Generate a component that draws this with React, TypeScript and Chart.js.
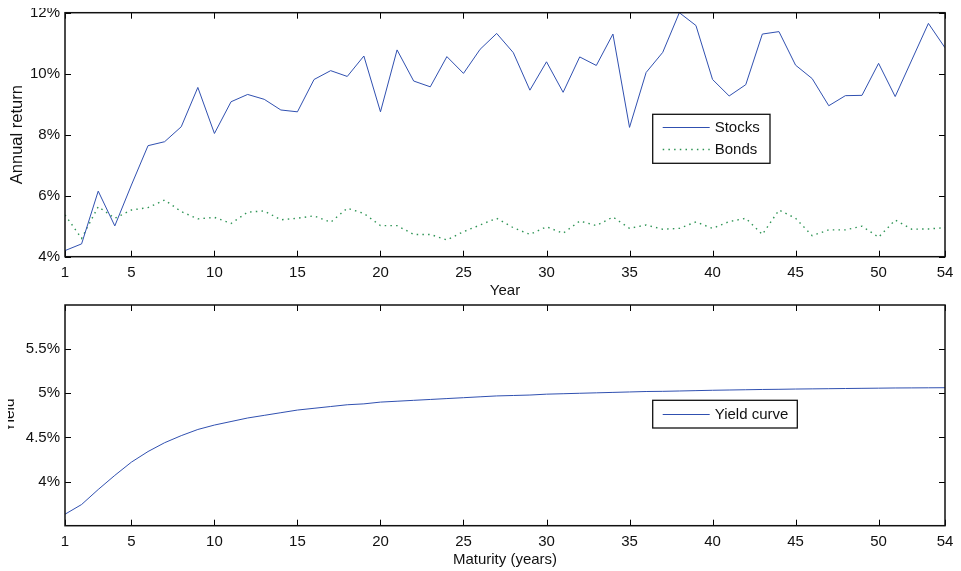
import React, { useEffect, useRef } from 'react';
import { Chart, registerables } from 'chart.js';

Chart.register(...registerables);

// ---------- data ----------
const years: number[] = Array.from({ length: 54 }, (_, i) => i + 1);

const stocks: number[] = [
  4.20, 4.42, 6.15, 5.01, 6.35, 7.64, 7.77, 8.26, 9.55, 8.04,
  9.08, 9.32, 9.16, 8.81, 8.75, 9.81, 10.10, 9.91, 10.58, 8.75,
  10.78, 9.76, 9.57, 10.56, 10.01, 10.80, 11.32, 10.69, 9.46, 10.39,
  9.39, 10.55, 10.27, 11.30, 8.24, 10.04, 10.70, 12.0, 11.58, 9.81,
  9.27, 9.64, 11.30, 11.38, 10.28, 9.84, 8.95, 9.28, 9.29, 10.34,
  9.25, 10.45, 11.65, 10.85,
];

const bonds: number[] = [
  5.37, 4.60, 5.64, 5.26, 5.53, 5.61, 5.86, 5.48, 5.24, 5.29,
  5.09, 5.46, 5.50, 5.21, 5.26, 5.34, 5.13, 5.59, 5.42, 5.02,
  5.02, 4.73, 4.73, 4.55, 4.82, 5.04, 5.26, 4.95, 4.73, 4.98,
  4.77, 5.17, 5.02, 5.30, 4.93, 5.04, 4.90, 4.93, 5.14, 4.93,
  5.15, 5.26, 4.73, 5.53, 5.26, 4.69, 4.88, 4.88, 5.00, 4.64,
  5.20, 4.90, 4.91, 4.95,
];

const maturities: number[] = Array.from({ length: 54 }, (_, i) => i + 1);

const yields: number[] = [
  3.63, 3.74, 3.91, 4.07, 4.22, 4.34, 4.44, 4.52, 4.59, 4.64,
  4.68, 4.72, 4.75, 4.78, 4.81, 4.83, 4.85, 4.87, 4.88, 4.90,
  4.91, 4.92, 4.93, 4.94, 4.95, 4.96, 4.97, 4.975, 4.98, 4.99,
  4.995, 5.00, 5.005, 5.01, 5.015, 5.02, 5.022, 5.026, 5.03, 5.034,
  5.037, 5.04, 5.043, 5.045, 5.048, 5.05, 5.052, 5.054, 5.056, 5.058,
  5.06, 5.061, 5.062, 5.063,
];

const xTickValues: number[] = [1, 5, 10, 15, 20, 25, 30, 35, 40, 45, 50, 54];
const returnTicks: number[] = [4, 6, 8, 10, 12];
const yieldTicks: number[] = [4, 4.5, 5, 5.5];

// ---------- style ----------
const FONT_FAMILY = '"Liberation Sans", Arial, Helvetica, sans-serif';
const TEXT = '#111';
const BLUE = '#3050b0';
const GREEN = '#2e9455';
const tickFont = { family: FONT_FAMILY, size: 15 };

const framePlugin = {
  id: 'matlabFrame',
  afterDraw(chart: any, _args: any, opts: any) {
    const { ctx, chartArea: a, scales } = chart;
    ctx.save();
    // inward ticks on all four sides
    ctx.strokeStyle = '#000';
    ctx.lineWidth = 1;
    ctx.beginPath();
    const tl = 6;
    const xs = scales.x;
    xs.ticks.forEach((t: any) => {
      const px = Math.round(xs.getPixelForValue(t.value)) + 0.5;
      ctx.moveTo(px, a.bottom);
      ctx.lineTo(px, a.bottom - tl);
      ctx.moveTo(px, a.top);
      ctx.lineTo(px, a.top + tl);
    });
    const ys = scales.y;
    ys.ticks.forEach((t: any) => {
      const py = Math.round(ys.getPixelForValue(t.value)) + 0.5;
      ctx.moveTo(a.left, py);
      ctx.lineTo(a.left + tl, py);
      ctx.moveTo(a.right, py);
      ctx.lineTo(a.right - tl, py);
    });
    ctx.stroke();
    // box
    ctx.lineWidth = 1.5;
    ctx.strokeStyle = '#111';
    ctx.strokeRect(a.left, a.top, a.width, a.height);

    // y title (partly clipped at the left edge, as in the source)
    ctx.save();
    ctx.fillStyle = TEXT;
    ctx.font = `${opts.titleSize}px ${FONT_FAMILY}`;
    ctx.translate(opts.titleX, (a.top + a.bottom) / 2);
    ctx.rotate(-Math.PI / 2);
    ctx.textAlign = 'center';
    ctx.textBaseline = 'alphabetic';
    ctx.fillText(opts.yTitle, 0, 0);
    ctx.restore();

    // legend box
    const lg = opts.legend;
    const bx = a.left + lg.dx;
    const by = a.top + lg.dy;
    ctx.fillStyle = '#fff';
    ctx.fillRect(bx, by, lg.w, lg.h);
    ctx.lineWidth = 1.3;
    ctx.strokeStyle = '#111';
    ctx.strokeRect(bx, by, lg.w, lg.h);
    ctx.font = `15px ${FONT_FAMILY}`;
    ctx.textAlign = 'left';
    ctx.textBaseline = 'middle';
    chart.data.datasets.forEach((ds: any, i: number) => {
      const ry = by + lg.rows[i];
      ctx.save();
      ctx.strokeStyle = ds.borderColor;
      ctx.lineWidth = ds.borderWidth || 1;
      ctx.setLineDash(ds.borderDash || []);
      ctx.beginPath();
      ctx.moveTo(bx + 10, ry);
      ctx.lineTo(bx + 57, ry);
      ctx.stroke();
      ctx.restore();
      ctx.fillStyle = TEXT;
      ctx.fillText(ds.label, bx + 62, ry + 0.5);
    });
    ctx.restore();
  },
};

function makeXScale(title: string, height: number, titlePadBottom: number) {
  return {
    type: 'linear',
    min: 1,
    max: 54,
    grid: { display: false, drawTicks: false },
    border: { display: false },
    afterBuildTicks: (s: any) => {
      s.ticks = xTickValues.map((v) => ({ value: v }));
    },
    afterFit: (s: any) => {
      s.height = height;
      s.paddingLeft = 0;
      s.paddingRight = 0;
    },
    ticks: {
      padding: 7,
      maxRotation: 0,
      autoSkip: false,
      color: TEXT,
      font: tickFont,
      callback: (v: any) => String(v),
    },
    title: {
      display: true,
      text: title,
      color: TEXT,
      font: tickFont,
      padding: { top: 0, bottom: titlePadBottom },
    },
  };
}

function makeYScale(min: number, max: number, tickList: number[]) {
  return {
    type: 'linear',
    min,
    max,
    grid: { display: false, drawTicks: false },
    border: { display: false },
    afterBuildTicks: (s: any) => {
      s.ticks = tickList.map((v) => ({ value: v }));
    },
    afterFit: (s: any) => {
      s.width = 57;
      s.paddingTop = 0;
      s.paddingBottom = 0;
    },
    ticks: {
      padding: 5,
      color: TEXT,
      font: tickFont,
      callback: (v: any) => `${v}%`,
    },
  };
}

function ReturnsChart() {
  const ref = useRef<HTMLCanvasElement | null>(null);
  useEffect(() => {
    if (!ref.current) return;
    const chart = new Chart(ref.current, {
      type: 'line',
      data: {
        datasets: [
          {
            label: 'Stocks',
            data: years.map((x, i) => ({ x, y: stocks[i] })),
            borderColor: BLUE,
            borderWidth: 1,
            pointRadius: 0,
            tension: 0,
            fill: false,
          },
          {
            label: 'Bonds',
            data: years.map((x, i) => ({ x, y: bonds[i] })),
            borderColor: GREEN,
            borderWidth: 1.4,
            borderDash: [1.5, 4.2],
            pointRadius: 0,
            tension: 0,
            fill: false,
          },
        ],
      },
      options: {
        animation: false,
        responsive: false,
        layout: { padding: { top: 12.7, right: 16, left: 0, bottom: 0 } },
        plugins: {
          legend: { display: false },
          tooltip: { enabled: false },
          matlabFrame: {
            yTitle: 'Annual return',
            titleX: 13.5,
            titleSize: 16.5,
            legend: { dx: 587.7, dy: 101.6, w: 117.3, h: 49, rows: [13.2, 35.2] },
          },
        } as any,
        scales: {
          x: makeXScale('Year', 51.3, 8.5) as any,
          y: makeYScale(4, 12, returnTicks) as any,
        },
      },
      plugins: [framePlugin],
    });
    return () => chart.destroy();
  }, []);
  return (
    <canvas
      ref={ref}
      width={953}
      height={308}
      style={{ position: 'absolute', left: 0, top: -8, width: 953, height: 308 }}
    />
  );
}

function YieldChart() {
  const ref = useRef<HTMLCanvasElement | null>(null);
  useEffect(() => {
    if (!ref.current) return;
    const chart = new Chart(ref.current, {
      type: 'line',
      data: {
        datasets: [
          {
            label: 'Yield curve',
            data: maturities.map((x, i) => ({ x, y: yields[i] })),
            borderColor: BLUE,
            borderWidth: 1,
            pointRadius: 0,
            tension: 0,
            fill: false,
          },
        ],
      },
      options: {
        animation: false,
        responsive: false,
        layout: { padding: { top: 12, right: 16, left: 0, bottom: 0 } },
        plugins: {
          legend: { display: false },
          tooltip: { enabled: false },
          matlabFrame: {
            yTitle: 'Yield',
            titleX: 6,
            titleSize: 15.5,
            legend: { dx: 587.7, dy: 95.3, w: 144.6, h: 27.7, rows: [14.2] },
          },
        } as any,
        scales: {
          x: makeXScale('Maturity (years)', 45.3, 2.5) as any,
          y: makeYScale(3.5, 6, yieldTicks) as any,
        },
      },
      plugins: [framePlugin],
    });
    return () => chart.destroy();
  }, []);
  return (
    <canvas
      ref={ref}
      width={953}
      height={278}
      style={{ position: 'absolute', left: 0, top: 285, width: 953, height: 278 }}
    />
  );
}

export default function App() {
  return (
    <div style={{ position: 'relative', width: 953, height: 563 }}>
      <ReturnsChart />
      <YieldChart />
    </div>
  );
}
